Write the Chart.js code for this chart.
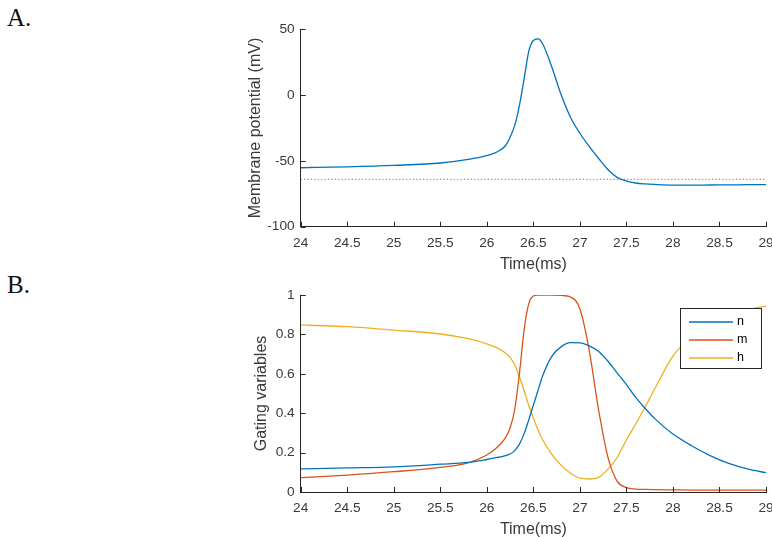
<!DOCTYPE html>
<html>
<head>
<meta charset="utf-8">
<script src="https://cdn.jsdelivr.net/npm/chart.js@4/dist/chart.umd.min.js"></script>
<style>
  body { margin: 0; background: #fff; width: 772px; height: 537px; overflow: hidden; position: relative; }
  canvas { position: absolute; left: 0; }
  .panel { position: absolute; left: 7px; font-family: "Liberation Serif", "Times New Roman", serif; font-size: 25px; color: #111; }
</style>
</head>
<body>
<div class="panel" style="top:4px">A.</div>
<div class="panel" style="top:271px">B.</div>
<canvas id="graficoV" width="772" height="274" style="top:0"></canvas>
<canvas id="graficoGates" width="772" height="265" style="top:274px"></canvas>
<script>
// tiempos (ms) y valores
const timeMs = [24, 24.5, 25, 25.5, 25.8, 26, 26.1, 26.2, 26.25, 26.3, 26.35, 26.4, 26.45, 26.5, 26.55, 26.6, 26.7, 26.8, 26.9, 27,
  27.1, 27.2, 27.3, 27.4, 27.5, 27.6, 27.7, 27.8, 28, 28.2, 28.4, 28.6, 28.8, 29];
const membraneV = [-55.2, -54.5, -53.4, -51.6, -48.8, -46, -43.5, -38.5, -32, -23, -8, 12, 33, 41.5, 42.8, 39, 21, 0, -17, -29,
  -39, -48, -56.5, -62.5, -65.3, -66.8, -67.5, -67.9, -68.4, -68.4, -68.3, -68.2, -68.1, -68];
const gateN = [0.117, 0.122, 0.128, 0.141, 0.15, 0.165, 0.174, 0.185, 0.193, 0.21, 0.243, 0.295, 0.365, 0.44, 0.515, 0.59, 0.69, 0.738, 0.758, 0.757,
  0.742, 0.715, 0.665, 0.605, 0.545, 0.48, 0.425, 0.375, 0.294, 0.235, 0.185, 0.145, 0.117, 0.098];
const gateM = [0.073, 0.086, 0.103, 0.125, 0.148, 0.188, 0.222, 0.275, 0.325, 0.42, 0.6, 0.82, 0.955, 0.995, 1, 1, 1, 0.998, 0.99, 0.93,
  0.72, 0.42, 0.18, 0.055, 0.022, 0.015, 0.013, 0.012, 0.011, 0.01, 0.01, 0.01, 0.01, 0.01];
const gateH = [0.848, 0.839, 0.822, 0.802, 0.778, 0.752, 0.734, 0.706, 0.683, 0.645, 0.585, 0.515, 0.44, 0.375, 0.315, 0.265, 0.19, 0.135, 0.095, 0.07,
  0.066, 0.074, 0.115, 0.175, 0.264, 0.345, 0.43, 0.52, 0.69, 0.79, 0.855, 0.895, 0.925, 0.944];
const restingV = -64;
const timeRange = [24, 29];
const vRange = [-100, 50];
const gateRange = [0, 1];
const gateLabels = ['n', 'm', 'h'];

const azul = '#0072BD', rojo = '#D95319', amarillo = '#EDB120';
const ejeColor = '#262626', textoColor = '#3a3a3a';
const fuente = '"Liberation Sans", Arial, Helvetica, sans-serif';

function puntos(valores) {
  return timeMs.map((t, i) => ({ x: t, y: valores[i] }));
}

// etiquetas sin ceros sobrantes: 24, 24.5, 0.2, 1
function etiqueta(v) {
  return String(parseFloat(Number(v).toFixed(3)));
}

// marcas de los ejes hacia adentro (estilo MATLAB)
const marcasAdentro = {
  id: 'marcasAdentro',
  afterDatasetsDraw(chart) {
    const ctx = chart.ctx, x = chart.scales.x, y = chart.scales.y;
    ctx.save();
    ctx.strokeStyle = ejeColor;
    ctx.lineWidth = 1;
    ctx.beginPath();
    x.ticks.forEach(t => {
      const px = Math.round(x.getPixelForValue(t.value)) + 0.5;
      ctx.moveTo(px, y.bottom);
      ctx.lineTo(px, y.bottom - 5);
    });
    y.ticks.forEach(t => {
      const py = Math.round(y.getPixelForValue(t.value)) + 0.5;
      ctx.moveTo(x.left, py);
      ctx.lineTo(x.left + 5, py);
    });
    ctx.stroke();
    ctx.restore();
  }
};

// leyenda dentro del area del grafico, con fondo blanco
const leyendaCaja = {
  id: 'leyendaCaja',
  afterDatasetsDraw(chart) {
    if (!chart.options.plugins.leyendaCaja) return;
    const ctx = chart.ctx, area = chart.chartArea;
    const w = 81, h = 60;
    const left = area.right - 5 - w, top = area.top + 13;
    ctx.save();
    ctx.fillStyle = '#fff';
    ctx.fillRect(left, top, w, h);
    ctx.strokeStyle = '#262626';
    ctx.lineWidth = 1;
    ctx.strokeRect(Math.round(left) + 0.5, Math.round(top) + 0.5, w, h);
    ctx.font = '12.5px ' + fuente;
    ctx.textBaseline = 'middle';
    chart.data.datasets.forEach((ds, i) => {
      const yy = top + 14 + i * 18;
      ctx.strokeStyle = ds.borderColor;
      ctx.lineWidth = 1.3;
      ctx.beginPath();
      ctx.moveTo(left + 9, yy);
      ctx.lineTo(left + 53, yy);
      ctx.stroke();
      ctx.fillStyle = '#000';
      ctx.fillText(ds.label, left + 57, yy);
    });
    ctx.restore();
  }
};

function opcionesEjes(yMin, yMax, yStep, yTitulo, yAncho, xAlto) {
  return {
    x: {
      type: 'linear', min: timeRange[0], max: timeRange[1],
      ticks: { stepSize: 0.5, padding: 8, color: textoColor, font: { family: fuente, size: 13.7 }, maxRotation: 0, callback: etiqueta },
      grid: { display: false, drawTicks: false },
      border: { display: true, color: ejeColor, width: 1 },
      title: { display: true, text: 'Time(ms)', color: textoColor, font: { family: fuente, size: 16 }, padding: 0 },
      afterFit: s => { s.height = xAlto; s.paddingLeft = 0; s.paddingRight = 0; }
    },
    y: {
      min: yMin, max: yMax,
      ticks: { stepSize: yStep, padding: 6, color: textoColor, font: { family: fuente, size: 13.7 }, callback: etiqueta },
      grid: { display: false, drawTicks: false },
      border: { display: true, color: ejeColor, width: 1 },
      title: { display: true, text: yTitulo, color: textoColor, font: { family: fuente, size: 16 }, padding: 0 },
      afterFit: s => { s.width = yAncho; s.paddingTop = 0; s.paddingBottom = 0; }
    }
  };
}

// Grafico A: potencial de membrana
const ctxV = document.getElementById('graficoV').getContext('2d');
new Chart(ctxV, {
  type: 'line',
  data: {
    datasets: [
      { label: 'V', data: puntos(membraneV), borderColor: azul, borderWidth: 1.3, pointRadius: 0, cubicInterpolationMode: 'monotone' },
      { label: 'reposo', data: [{ x: timeRange[0], y: restingV }, { x: timeRange[1], y: restingV }],
        borderColor: rojo, borderWidth: 1, borderDash: [1.2, 2.2], pointRadius: 0 }
    ]
  },
  options: {
    responsive: false, animation: false, devicePixelRatio: 1,
    layout: { padding: { left: 245.9, right: 6, top: 29.3, bottom: 0 } },
    scales: opcionesEjes(vRange[0], vRange[1], 50, 'Membrane potential (mV)', 54.8, 47.3),
    plugins: { legend: { display: false }, tooltip: { enabled: false } }
  },
  plugins: [marcasAdentro]
});

// Grafico B: variables de compuerta
const ctxG = document.getElementById('graficoGates').getContext('2d');
new Chart(ctxG, {
  type: 'line',
  data: {
    datasets: [
      { label: gateLabels[0], data: puntos(gateN), borderColor: azul, borderWidth: 1.3, pointRadius: 0, cubicInterpolationMode: 'monotone' },
      { label: gateLabels[1], data: puntos(gateM), borderColor: rojo, borderWidth: 1.3, pointRadius: 0, cubicInterpolationMode: 'monotone' },
      { label: gateLabels[2], data: puntos(gateH), borderColor: amarillo, borderWidth: 1.3, pointRadius: 0, cubicInterpolationMode: 'monotone' }
    ]
  },
  options: {
    responsive: false, animation: false, devicePixelRatio: 1,
    layout: { padding: { left: 251.9, right: 6, top: 21, bottom: 0 } },
    scales: opcionesEjes(gateRange[0], gateRange[1], 0.2, 'Gating variables', 48.8, 47),
    plugins: { legend: { display: false }, tooltip: { enabled: false }, leyendaCaja: true }
  },
  plugins: [marcasAdentro, leyendaCaja]
});
</script>
</body>
</html>
